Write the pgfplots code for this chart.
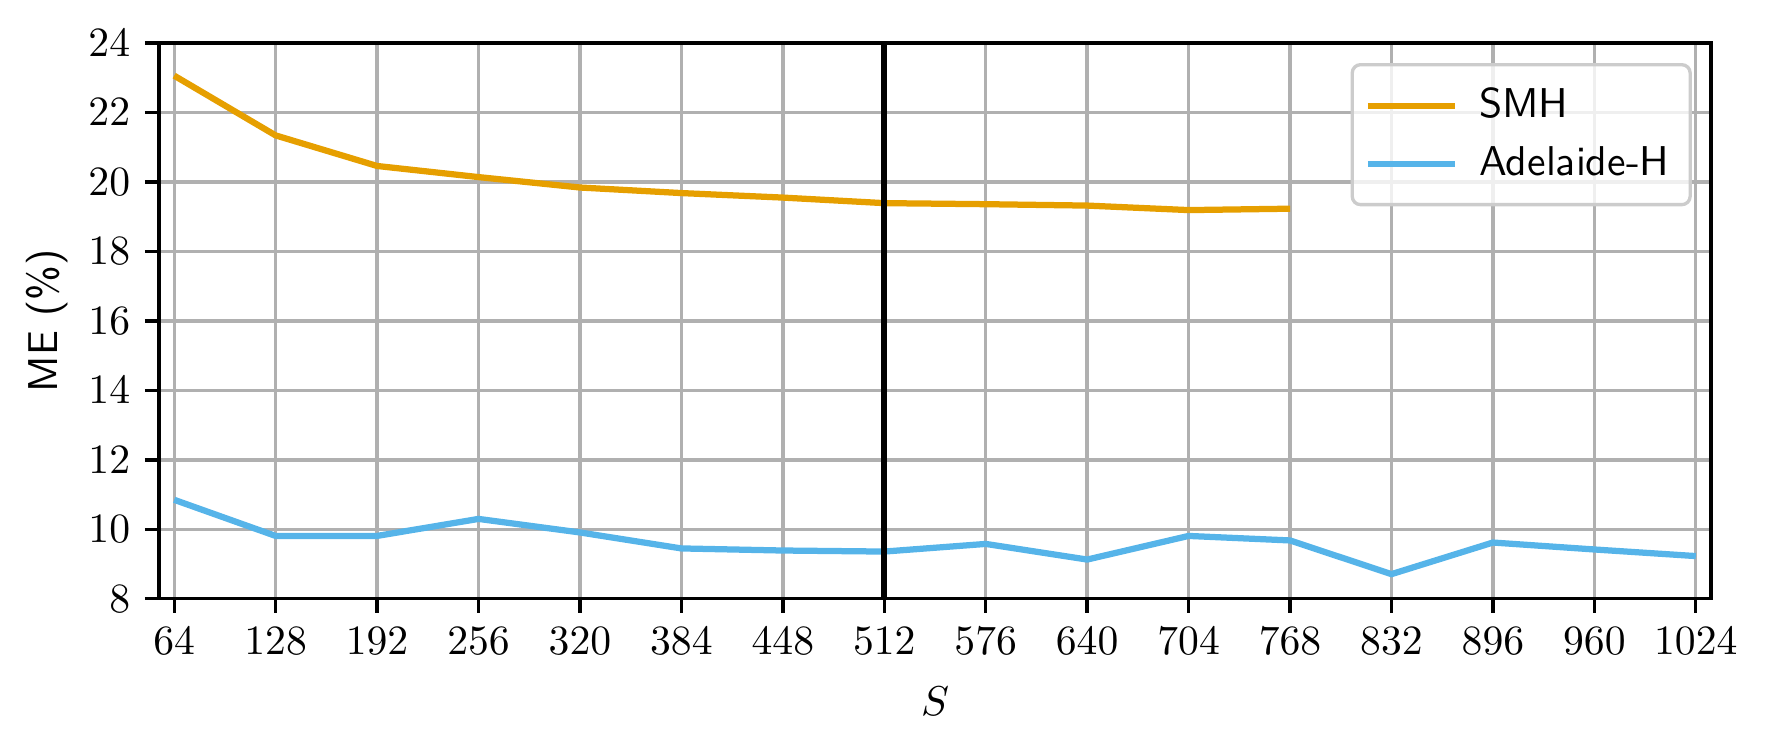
\documentclass[border=0pt]{standalone}
\usepackage{pgfplots}
\usepackage{pgfplotstable}
\pgfplotsset{compat=1.18}

\definecolor{smh}{HTML}{E69F00}
\definecolor{adel}{HTML}{56B4E9}
\definecolor{gridgray}{HTML}{B0B0B0}

\pgfplotstableread{
S    smh    adel
64   23.06  10.85
128  21.34  9.81
192  20.46  9.81
256  20.14  10.30
320  19.84  9.91
384  19.68  9.45
448  19.55  9.39
512  19.39  9.36
576  19.36  9.58
640  19.32  9.13
704  19.19  9.81
768  19.23  9.68
832  nan    8.71
896  nan    9.62
960  nan    9.42
1024 nan    9.23
}\datatable

\begin{document}
\begin{tikzpicture}
\begin{axis}[
    scale only axis,
    width=372.5pt,
    height=133.4pt,
    xmin=54.4, xmax=1033.6,
    ymin=8, ymax=24,
    xtick={64,128,...,1024},
    ytick={8,10,...,24},
    xticklabel style={/pgf/number format/1000 sep={}},
    tick align=outside,
    major tick length=3.4pt,
    xtick pos=bottom, ytick pos=left,
    grid=major,
    major grid style={gridgray, line width=0.8pt},
    axis line style={line width=0.8pt},
    every tick/.style={black, line width=0.8pt},
    xlabel={$S$},
    ylabel={\sffamily ME (\%)},
    ylabel style={yshift=-2pt},
    xlabel style={yshift=-1pt},
    unbounded coords=jump,
    legend cell align=left,
    legend style={
        at={(1,1)}, anchor=north east, xshift=-4.6pt, yshift=-4.8pt,
        draw=black!20, line width=0.8pt, rounded corners=2pt,
        fill=white, fill opacity=0.8, text opacity=1,
        font=\sffamily, row sep=1.5pt, inner xsep=3pt, inner ysep=3.5pt,
    },
    legend image code/.code={\draw[#1] (0pt,0pt) -- (21pt,0pt); \path (24pt,0pt);},
]
\addplot[smh, line width=1.5pt] table[x=S, y=smh] {\datatable};
\addlegendentry{SMH}
\addplot[adel, line width=1.5pt] table[x=S, y=adel] {\datatable};
\addlegendentry{Adelaide-H}
\addplot[black, line width=1.5pt, forget plot] coordinates {(512,8) (512,24)};
\end{axis}
\pgfresetboundingbox
\useasboundingbox ([shift={(-38.16pt,-36pt)}]current axis.south west) rectangle ([shift={(13.68pt,10.32pt)}]current axis.north east);
\end{tikzpicture}
\end{document}
